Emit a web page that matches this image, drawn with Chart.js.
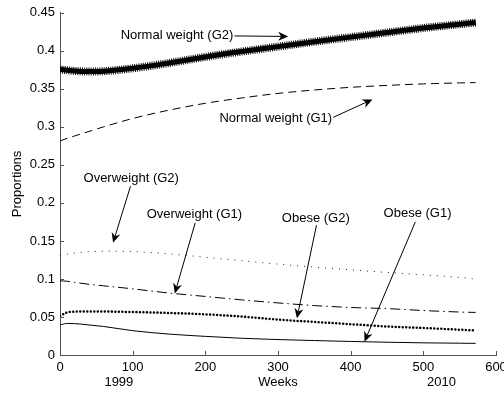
<!DOCTYPE html>
<html lang="en">
<head>
  <meta charset="UTF-8">
  <title>Proportions by weight group</title>
  <script src="https://cdn.jsdelivr.net/npm/chart.js"></script>
  <style>
    body {
      margin: 0;
      background: #fff;
    }
    canvas {
      display: block;
    }
  </style>
</head>
<body>
  <canvas id="propChart" width="504" height="394"></canvas>

  <script>
    // weeks since start of 1999
    const weeks = [0, 10, 20, 40, 60, 100, 150, 200, 250, 300, 350, 400, 450, 500, 550, 572];

    const normalG2 = [0.3755, 0.3745, 0.3735, 0.3728, 0.3732, 0.3770, 0.3840, 0.3920, 0.3990, 0.4055, 0.4120, 0.4180, 0.4240, 0.4300, 0.4350, 0.4372];
    const normalG1 = [0.2815, 0.2850, 0.2880, 0.2940, 0.3000, 0.3110, 0.3220, 0.3310, 0.3380, 0.3440, 0.3485, 0.3520, 0.3545, 0.3565, 0.3578, 0.3582];
    const overG2   = [0.1310, 0.1325, 0.1340, 0.1358, 0.1365, 0.1360, 0.1330, 0.1285, 0.1240, 0.1195, 0.1155, 0.1120, 0.1085, 0.1055, 0.1020, 0.0998];
    const overG1   = [0.0975, 0.0970, 0.0955, 0.0930, 0.0910, 0.0870, 0.0815, 0.0770, 0.0725, 0.0685, 0.0650, 0.0625, 0.0610, 0.0585, 0.0565, 0.0560];
    const obeseG2  = [0.0515, 0.0560, 0.0570, 0.0573, 0.0572, 0.0565, 0.0553, 0.0535, 0.0505, 0.0465, 0.0435, 0.0405, 0.0375, 0.0355, 0.0333, 0.0322];
    const obeseG1  = [0.0395, 0.0415, 0.0413, 0.0395, 0.0375, 0.0320, 0.0275, 0.0245, 0.0220, 0.0203, 0.0190, 0.0178, 0.0168, 0.0160, 0.0155, 0.0153];

    const xTicks = [0, 100, 200, 300, 400, 500, 600];
    const yTicks = [0, 0.05, 0.1, 0.15, 0.2, 0.25, 0.3, 0.35, 0.4, 0.45];

    // year labels under the week axis
    const yearLabels = [{ text: '1999', x: 81 }, { text: '2010', x: 525 }];

    // text labels with arrows, in data units: label centre, arrow start, arrow tip
    const notes = [
      { text: 'Normal weight (G2)', at: [161, 0.4198], from: [240, 0.4196], to: [314, 0.4189] },
      { text: 'Normal weight (G1)', at: [297, 0.3112], from: [376, 0.3125], to: [430, 0.3361] },
      { text: 'Overweight (G2)',    at: [98, 0.2325],  from: [97, 0.2219],  to: [73, 0.1475] },
      { text: 'Overweight (G1)',    at: [185, 0.1851], from: [186, 0.1737], to: [158, 0.0810] },
      { text: 'Obese (G2)',         at: [352, 0.1795], from: [353, 0.1707], to: [326, 0.0482] },
      { text: 'Obese (G1)',         at: [492, 0.1860], from: [489, 0.1750], to: [419, 0.0175] }
    ];

    const FONT = '"Liberation Sans", Arial, Helvetica, sans-serif';
    const AXIS = '#555';

    const pts = (vals) => weeks.map((w, i) => ({ x: w, y: vals[i] }));

    const base = {
      pointRadius: 0,
      fill: false,
      cubicInterpolationMode: 'monotone',
      borderColor: '#000',
      borderWidth: 1
    };

    // inward tick marks, year labels and arrows
    const extras = {
      id: 'extras',
      afterDraw(chart) {
        const { ctx, chartArea, scales: { x, y } } = chart;
        ctx.save();
        ctx.strokeStyle = AXIS;
        ctx.lineWidth = 1;
        ctx.beginPath();
        xTicks.forEach(v => {
          const px = Math.round(x.getPixelForValue(v)) + 0.5;
          ctx.moveTo(px, chartArea.bottom);
          ctx.lineTo(px, chartArea.bottom - 4);
        });
        yTicks.forEach(v => {
          const py = Math.round(y.getPixelForValue(v)) + 0.5;
          ctx.moveTo(chartArea.left, py);
          ctx.lineTo(chartArea.left + 4, py);
        });
        ctx.stroke();

        ctx.fillStyle = '#000';
        ctx.font = '13px ' + FONT;
        ctx.textAlign = 'center';
        ctx.textBaseline = 'middle';
        yearLabels.forEach(l => ctx.fillText(l.text, x.getPixelForValue(l.x), 382));

        notes.forEach(n => {
          ctx.fillText(n.text, x.getPixelForValue(n.at[0]), y.getPixelForValue(n.at[1]));
          const x1 = x.getPixelForValue(n.from[0]), y1 = y.getPixelForValue(n.from[1]);
          const x2 = x.getPixelForValue(n.to[0]), y2 = y.getPixelForValue(n.to[1]);
          const len = Math.hypot(x2 - x1, y2 - y1);
          const ux = (x2 - x1) / len, uy = (y2 - y1) / len;
          const nx = -uy, ny = ux;
          const L = 10, W = 4.5, notch = 3;
          ctx.strokeStyle = '#000';
          ctx.lineWidth = 1;
          ctx.beginPath();
          ctx.moveTo(x1, y1);
          ctx.lineTo(x2 - ux * (L - notch), y2 - uy * (L - notch));
          ctx.stroke();
          ctx.beginPath();
          ctx.moveTo(x2, y2);
          ctx.lineTo(x2 - ux * L + nx * W, y2 - uy * L + ny * W);
          ctx.lineTo(x2 - ux * (L - notch), y2 - uy * (L - notch));
          ctx.lineTo(x2 - ux * L - nx * W, y2 - uy * L - ny * W);
          ctx.closePath();
          ctx.fill();
        });
        ctx.restore();
      }
    };

    new Chart(document.getElementById('propChart'), {
      type: 'line',
      data: {
        datasets: [
          // starred line: solid core plus a dashed halo for the marker texture
          { ...base, data: pts(normalG2), borderWidth: 8, borderDash: [1, 1.2], borderColor: 'rgba(0,0,0,0.95)' },
          { ...base, data: pts(normalG2), borderWidth: 5, borderColor: '#000' },
          { ...base, data: pts(normalG1), borderDash: [8, 5] },
          { ...base, data: pts(overG2), borderDash: [1, 6], borderColor: '#222' },
          { ...base, data: pts(overG1), borderDash: [10, 4, 1.5, 4] },
          { ...base, data: pts(obeseG2), borderWidth: 2.5, borderDash: [0.01, 3.5], borderCapStyle: 'round' },
          { ...base, data: pts(obeseG1) }
        ]
      },
      options: {
        responsive: false,
        animation: false,
        layout: { padding: { top: 12, right: 8, left: 0, bottom: 0 } },
        plugins: {
          legend: { display: false },
          tooltip: { enabled: false }
        },
        scales: {
          x: {
            type: 'linear',
            min: 0,
            max: 600,
            afterFit: (s) => { s.height = 39; s.paddingRight = 0; s.paddingLeft = 0; },
            afterBuildTicks: (s) => { s.ticks = xTicks.map(v => ({ value: v })); },
            grid: { display: false, drawTicks: false },
            border: { display: true, color: AXIS, width: 1 },
            ticks: {
              padding: 5,
              color: '#000',
              font: { family: FONT, size: 13 },
              maxRotation: 0
            },
            title: {
              display: true,
              text: 'Weeks',
              color: '#000',
              font: { family: FONT, size: 13 },
              padding: { top: 0, bottom: 4 }
            }
          },
          y: {
            min: 0,
            max: 0.45,
            afterFit: (s) => { s.width = 60; },
            afterBuildTicks: (s) => { s.ticks = yTicks.map(v => ({ value: v })); },
            grid: { display: false, drawTicks: false },
            border: { display: true, color: AXIS, width: 1 },
            ticks: {
              padding: 5,
              color: '#000',
              font: { family: FONT, size: 13 },
              callback: (v) => String(Number(v.toFixed(2)))
            },
            title: {
              display: true,
              text: 'Proportions',
              color: '#000',
              font: { family: FONT, size: 13 },
              padding: { top: 10, bottom: 0 }
            }
          }
        }
      },
      plugins: [extras]
    });
  </script>
</body>
</html>
